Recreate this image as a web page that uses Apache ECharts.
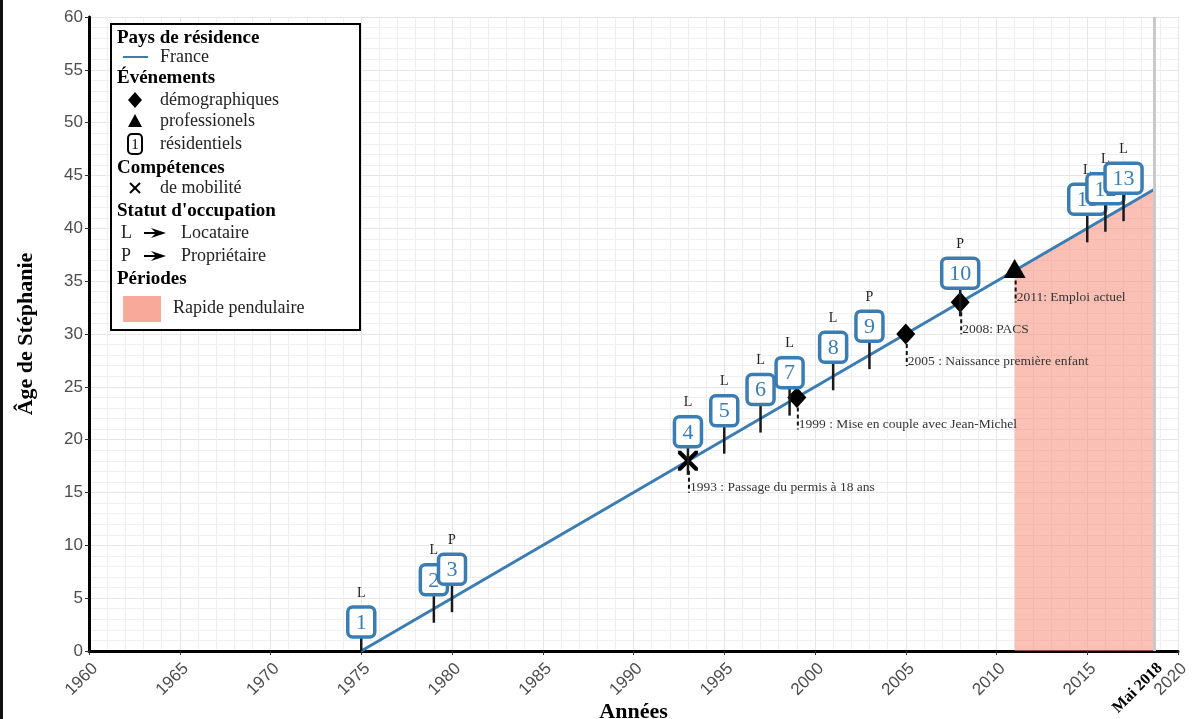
<!DOCTYPE html>
<html><head><meta charset="utf-8">
<script src="https://cdn.jsdelivr.net/npm/echarts@6/dist/echarts.min.js"></script>
<style>html,body{margin:0;padding:0;background:#fff}#c{width:1192px;height:719px}</style>
</head><body><div id="c"></div>
<script>
// ---- data ----
const trajYears = [1975, 2018.7];
const trajAges = [0, 43.7];
const periodYears = [2011, 2018.7];
const periodAges = [36, 43.7];
const resYears = [1975, 1979, 1980, 1993, 1995, 1997, 1998.6, 2001, 2003, 2008, 2015, 2016, 2017];
const resAges = [0, 4, 5, 18, 20, 22, 23.6, 26, 28, 33, 40, 41, 42];
const resNums = ['1','2','3','4','5','6','7','8','9','10','11','12','13'];
const resStatus = ['L','L','P','L','L','L','L','L','P','P','L','L','L'];
const evYears = [1993, 1999, 2005, 2008, 2011];
const evAges = [18, 24, 30, 33, 36];
const evTypes = ['mobilite', 'demo', 'demo', 'demo', 'pro'];
const evLabels = ['1993 : Passage du permis à 18 ans', '1999 : Mise en couple avec Jean-Michel',
  '2005 : Naissance première enfant', '2008: PACS', '2011: Emploi actuel'];
const xTickValues = [1960, 1965, 1970, 1975, 1980, 1985, 1990, 1995, 2000, 2005, 2010, 2015, 2020];
const endYear = 2018.7;
const endLabel = 'Mai 2018';

// ---- styles ----
const BLUE = '#3b7db2';
const SERIF = '"Liberation Serif", "DejaVu Serif", serif';
const SANS = '"Liberation Sans", Arial, sans-serif';
const PINK = 'rgba(246,140,120,0.55)';

const chart = echarts.init(document.getElementById('c'), null, {renderer: 'canvas'});

const xLabelValues = xTickValues.slice(0, 12).concat([endYear, 2020]);

function byType(t) {
  const out = [];
  evTypes.forEach((tp, i) => { if (tp === t) out.push([evYears[i], evAges[i]]); });
  return out;
}

const X_PATH = 'path://M0,0 L3,0 L10,7 L17,0 L20,0 L20,3 L13,10 L20,17 L20,20 L17,20 L10,13 L3,20 L0,20 L0,17 L7,10 L0,3 Z';

// legend graphics
const LX = 117;
const lg = [];
function txt(x, y, s, bold) {
  lg.push({type: 'text', x: x, y: y, z: 101,
    style: {text: s, font: (bold ? 'bold 19px ' : '18px ') + SERIF, fill: bold ? '#000' : '#222',
      verticalAlign: 'middle', align: 'left'}});
}
lg.push({type: 'rect', z: 100, shape: {x: 111, y: 24, width: 249, height: 306},
  style: {fill: '#fff', stroke: '#000', lineWidth: 2}});
txt(LX, 38, 'Pays de résidence', true);
lg.push({type: 'line', z: 101, shape: {x1: 123, y1: 57, x2: 148, y2: 57}, style: {stroke: BLUE, lineWidth: 2}});
txt(160, 57, 'France');
txt(LX, 78, 'Événements', true);
lg.push({type: 'polygon', z: 101, shape: {points: [[135, 92], [142, 100], [135, 108], [128, 100]]}, style: {fill: '#000'}});
txt(160, 100, 'démographiques');
lg.push({type: 'polygon', z: 101, shape: {points: [[135, 114], [142, 127], [128, 127]]}, style: {fill: '#000'}});
txt(160, 121, 'professionels');
lg.push({type: 'rect', z: 101, shape: {x: 128, y: 134, width: 14, height: 20, r: 4}, style: {fill: '#fff', stroke: '#000', lineWidth: 2}});
lg.push({type: 'text', z: 102, x: 135, y: 145, style: {text: '1', font: '15px ' + SERIF, fill: '#000', align: 'center', verticalAlign: 'middle'}});
txt(160, 144, 'résidentiels');
txt(LX, 168, 'Compétences', true);
lg.push({type: 'line', z: 101, shape: {x1: 130, y1: 183, x2: 140, y2: 193}, style: {stroke: '#000', lineWidth: 2}});
lg.push({type: 'line', z: 101, shape: {x1: 140, y1: 183, x2: 130, y2: 193}, style: {stroke: '#000', lineWidth: 2}});
txt(160, 188, 'de mobilité');
txt(LX, 211, "Statut d'occupation", true);
txt(121, 233, 'L');
txt(121, 256, 'P');
[233, 256].forEach(y => {
  lg.push({type: 'polygon', z: 101, shape: {points: [[144, y - 1], [155, y - 1], [151, y - 5], [166, y], [151, y + 5], [155, y + 1], [144, y + 1]]}, style: {fill: '#000'}});
});
txt(181, 233, 'Locataire');
txt(181, 256, 'Propriétaire');
txt(LX, 279, 'Périodes', true);
lg.push({type: 'rect', z: 101, shape: {x: 123, y: 296, width: 38, height: 26}, style: {fill: 'rgba(246,140,120,0.75)'}});
txt(173, 308, 'Rapide pendulaire');
lg.push({type: 'rect', z: 100, shape: {x: 0, y: 0, width: 3, height: 719}, style: {fill: '#111'}});

const option = {
  animation: false,
  backgroundColor: '#fff',
  grid: {left: 89, right: 14, top: 17, bottom: 68, containLabel: false, outerBoundsMode: 'none'},
  xAxis: {
    type: 'value', min: 1960, max: 2020, interval: 5,
    name: 'Années', nameLocation: 'middle', nameGap: 50, nameMoveOverlap: false,
    nameTextStyle: {fontFamily: SERIF, fontWeight: 'bold', fontSize: 22, color: '#000'},
    axisLine: {show: true, onZero: false, lineStyle: {color: '#000', width: 3}},
    axisTick: {show: true, length: 4, lineStyle: {color: '#333'}, customValues: xTickValues},
    axisLabel: {
      customValues: xLabelValues, rotate: 45, margin: 9, verticalAlign: 'top',
      fontFamily: SANS, fontSize: 17, color: '#4d4d4d',
      formatter: v => Math.abs(v - endYear) < 0.01 ? '{b|' + endLabel + '}' : String(Math.round(v)),
      rich: {b: {fontFamily: SERIF, fontWeight: 'bold', fontSize: 16, color: '#000'}}
    },
    splitLine: {show: true, lineStyle: {color: '#e6e6e6', width: 1}},
    minorTick: {show: false, splitNumber: 5},
    minorSplitLine: {show: true, lineStyle: {color: '#efefef', width: 1}}
  },
  yAxis: {
    type: 'value', min: 0, max: 60, interval: 5,
    name: 'Âge de Stéphanie', nameLocation: 'middle', nameGap: 52, nameRotate: 90, nameMoveOverlap: false,
    nameTextStyle: {fontFamily: SERIF, fontWeight: 'bold', fontSize: 22, color: '#000'},
    axisLine: {show: true, lineStyle: {color: '#000', width: 3}},
    axisTick: {show: true, length: 4, lineStyle: {color: '#333'}},
    axisLabel: {margin: 6, fontFamily: SANS, fontSize: 17, color: '#4d4d4d'},
    splitLine: {show: true, lineStyle: {color: '#e6e6e6', width: 1}},
    minorTick: {show: false, splitNumber: 5},
    minorSplitLine: {show: true, lineStyle: {color: '#efefef', width: 1}}
  },
  graphic: lg,
  series: [
    {
      name: 'Rapide pendulaire', type: 'line', z: 1, silent: true,
      data: periodYears.map((y, i) => [y, periodAges[i]]),
      symbol: 'none', lineStyle: {width: 0},
      areaStyle: {color: PINK, opacity: 1}
    },
    {
      name: 'France', type: 'line', z: 2, silent: true,
      data: trajYears.map((y, i) => [y, trajAges[i]]),
      symbol: 'none', lineStyle: {color: BLUE, width: 3},
      markLine: {
        silent: true, symbol: 'none', label: {show: false},
        lineStyle: {color: '#c9c9c9', width: 3, type: 'solid'},
        data: [{xAxis: endYear}]
      }
    },
    {
      name: 'annotations', type: 'custom', z: 3, silent: true, clip: true,
      data: evYears.map((y, i) => [y, evAges[i]]),
      renderItem: (params, api) => {
        const p = api.coord([api.value(0), api.value(1)]);
        const x = p[0] + 1;
        return {type: 'group', children: [
          {type: 'line', shape: {x1: x, y1: p[1] + 10, x2: x, y2: p[1] + 32},
            style: {stroke: '#111', lineWidth: 2, lineDash: [4, 3]}},
          {type: 'text', style: {x: x + 1, y: p[1] + 27, text: evLabels[params.dataIndex],
            font: '13.5px ' + SERIF, fill: '#333', align: 'left', verticalAlign: 'middle'}}
        ]};
      }
    },
    {
      name: 'démographiques', type: 'scatter', z: 4, silent: true,
      data: byType('demo'), symbol: 'diamond', symbolSize: [19, 21],
      itemStyle: {color: '#000', opacity: 1}
    },
    {
      name: 'professionels', type: 'scatter', z: 4, silent: true,
      data: byType('pro'), symbol: 'triangle', symbolSize: [22, 19], symbolOffset: [0, -2],
      itemStyle: {color: '#000', opacity: 1}
    },
    {
      name: 'de mobilité', type: 'scatter', z: 4, silent: true,
      data: byType('mobilite'), symbol: X_PATH, symbolSize: [20, 20],
      itemStyle: {color: '#000', opacity: 1}
    },
    {
      name: 'résidentiels', type: 'custom', z: 5, silent: true, clip: true,
      data: resYears.map((y, i) => [y, resAges[i]]),
      renderItem: (params, api) => {
        const i = params.dataIndex;
        const p = api.coord([api.value(0), api.value(1)]);
        const num = resNums[i];
        const w = num.length > 1 ? 37 : 27, h = 30;
        const cy = p[1] - 29;
        return {type: 'group', children: [
          {type: 'line', shape: {x1: p[0], y1: p[1] + 14, x2: p[0], y2: cy + h / 2},
            style: {stroke: '#1a1a1a', lineWidth: 2.5}},
          {type: 'rect', shape: {x: p[0] - w / 2, y: cy - h / 2, width: w, height: h, r: 5},
            style: {fill: '#fff', stroke: BLUE, lineWidth: 3.5}},
          {type: 'text', style: {x: p[0], y: cy + 1, text: num, font: '22px ' + SERIF,
            fill: BLUE, align: 'center', verticalAlign: 'middle'}},
          {type: 'text', style: {x: p[0], y: p[1] - 58, text: resStatus[i], font: '14px ' + SERIF,
            fill: '#222', align: 'center', verticalAlign: 'middle'}}
        ]};
      }
    }
  ]
};
chart.setOption(option);
</script>
</body></html>
